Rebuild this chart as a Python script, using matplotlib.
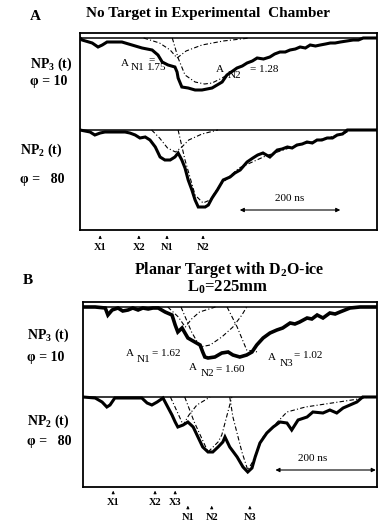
import matplotlib
matplotlib.use("Agg")
import matplotlib.pyplot as plt
from matplotlib.transforms import blended_transform_factory

plt.rcParams['mathtext.fontset'] = 'custom'
plt.rcParams['mathtext.rm'] = 'Liberation Serif'
plt.rcParams['mathtext.bf'] = 'Liberation Serif:bold'
plt.rcParams['mathtext.it'] = 'Liberation Serif:italic'
SERIF = ['Liberation Serif', 'DejaVu Serif']

# ---------------- data (time in ns, signal in a.u., 0 = baseline) ----------------
# Panel A, NP3(t), phi = 10
a3_t = [0, 4, 23, 34, 42, 51, 79, 98, 117, 136, 147, 155, 166, 179, 183, 185, 192, 204, 217, 230,
        249, 268, 277, 288, 296, 306, 315, 325, 334, 346, 358, 367, 377, 387, 396, 406, 415, 425,
        434, 444, 453, 463, 472, 481, 491, 503, 515, 525, 534, 560]
a3_s = [0, -2, -5, -9, -7, -4, -4, -7, -10, -12, -17, -24, -27, -29, -34, -40, -49, -50, -52, -52,
        -50, -44, -37, -33, -30, -28, -25, -23, -20, -21, -19, -16, -14, -14, -12, -11, -9, -10,
        -7, -8, -7, -6, -5, -5, -4, -3, -2, -2, 0, 0]
a3_n1_t = [120, 150, 170, 183, 200, 230, 270, 320]
a3_n1_s = [0, -5, -12, -20, -13, -7, -3, 0]
a3_n2_t = [174, 185, 198, 217, 235, 249, 268, 283]
a3_n2_s = [0, -20, -37, -44, -46, -45, -40, -35]

# Panel A, NP2(t), phi = 80
a2_t = [0, 19, 28, 38, 47, 66, 85, 94, 104, 113, 123, 132, 142, 151, 160, 170, 179, 185, 192, 198,
        204, 211, 217, 223, 236, 242, 249, 259, 270, 283, 292, 302, 315, 326, 335, 345, 358, 372,
        381, 391, 400, 409, 419, 428, 438, 447, 456, 466, 476, 485, 495, 504, 560]
a2_s = [0, -2, -5, -3, -2, -2, -2, -3, -5, -8, -7, -10, -17, -27, -30, -30, -27, -23, -30, -38,
        -50, -60, -70, -77, -77, -75, -68, -60, -50, -47, -43, -40, -32, -28, -25, -23, -27, -20,
        -19, -17, -18, -15, -14, -12, -13, -10, -10, -8, -8, -5, -4, 0, 0]
a2_n1_t = [135, 150, 165, 180, 192, 205, 230, 260]
a2_n1_s = [0, -8, -18, -22, -17, -10, -4, 0]
a2_n2_t = [185, 198, 217, 232, 245, 264, 300, 350, 400, 450, 500, 510]
a2_n2_s = [0, -30, -65, -73, -70, -55, -38, -26, -17, -10, -3, 0]

# Panel B, NP3(t), phi = 10
b3_t = [0, 23, 42, 47, 55, 66, 75, 85, 94, 104, 113, 123, 132, 142, 155, 168, 174, 179, 187, 198,
        211, 221, 226, 230, 236, 249, 262, 274, 283, 296, 309, 319, 328, 340, 353, 366, 377, 391,
        400, 409, 423, 432, 442, 453, 466, 476, 485, 504, 523, 555]
b3_s = [0, 0, -1, -8, -3, -1, -4, -3, -1, -3, -1, -2, -1, -1, -5, -8, -18, -25, -21, -31,
        -35, -38, -45, -50, -51, -50, -46, -45, -48, -50, -48, -45, -38, -31, -26, -23, -21, -16,
        -17, -15, -11, -12, -8, -11, -6, -7, -5, -1, 0, 0]
b3_n1_t = [160, 180, 193, 205, 220, 250]
b3_n1_s = [0, -10, -20, -12, -5, 0]
b3_n2_t = [185, 205, 221, 240, 262, 283, 300, 309]
b3_n2_s = [0, -25, -40, -38, -30, -20, -8, 0]
b3_n3_t = [272, 291, 309, 330]
b3_n3_s = [0, -20, -43, -45]

# Panel B, NP2(t), phi = 80
b2_t = [0, 23, 36, 45, 51, 60, 79, 111, 121, 130, 140, 151, 160, 168, 174, 179, 189, 198, 208, 217,
        226, 236, 245, 255, 264, 268, 277, 291, 302, 311, 319, 325, 334, 347, 359, 372, 385, 394,
        406, 423, 434, 453, 466, 479, 491, 504, 517, 528, 555]
b2_s = [0, -1, -5, -10, -8, -1, -1, -1, -6, -8, -5, -1, -10, -18, -25, -30, -28, -25, -30, -40,
        -50, -55, -55, -50, -45, -40, -50, -60, -70, -75, -71, -60, -46, -36, -30, -25, -26, -33,
        -23, -20, -15, -16, -13, -16, -11, -8, -5, 0, 0]
b2_n1_t = [165, 178, 189, 200, 215, 240]
b2_n1_s = [0, -15, -28, -18, -8, 0]
b2_n2_t = [192, 210, 236, 255, 262, 281]
b2_n2_s = [0, -25, -55, -45, -38, 0]
b2_n3_t = [277, 283, 300, 311, 320, 340, 385, 420, 470, 520, 540]
b2_n3_s = [0, -20, -55, -73, -65, -40, -15, -10, -6, -2, 0]

a_marks = ['X1', 'X2', 'N1', 'N2']
a_marks_t = [38, 111, 164, 232]
b_marks = ['X1', 'X2', 'X3', 'N1', 'N2', 'N3']
b_marks_t = [57, 136, 174, 198, 243, 315]
b_marks_row = [0, 0, 0, 1, 1, 1]

# ---------------- figure ----------------
W, H = 378, 526
fig = plt.figure(figsize=(W / 100, H / 100), dpi=100)
fig.patch.set_facecolor('white')


def rect(x0, y0, x1, y1):
    return [x0 / W, 1 - y1 / H, (x1 - x0) / W, (y1 - y0) / H]


def ftext(x, y, s, **kw):
    kw.setdefault('family', SERIF)
    fig.text(x / W, 1 - y / H, s, zorder=10, **kw)


def frame(x0, y0, x1, y1):
    ax = fig.add_axes(rect(x0, y0, x1, y1))
    ax.set_xticks([]); ax.set_yticks([])
    for sp in ax.spines.values():
        sp.set_linewidth(1.3)
    ax.patch.set_alpha(0)
    return ax


def trace_ax(x0, y0, x1, y1, ylim, tmax):
    ax = fig.add_axes(rect(x0, y0, x1, y1))
    ax.set_xlim(0, tmax)
    ax.set_ylim(*ylim)
    ax.axis('off')
    ax.patch.set_alpha(0)
    ax.axhline(0, color='black', lw=1.1)
    return ax


def draw(ax, t, s, comps, lw=2.2):
    for ct, cs in comps:
        ax.plot(ct, cs, color='black', lw=0.8, ls=(0, (4, 2, 1, 2)))
    ax.plot(t, s, color='black', lw=lw, solid_joinstyle='miter')


# Panel A
frame(80, 33, 377, 230)
axA3 = trace_ax(80, 34, 377, 134, (-96, 4), 560)
draw(axA3, a3_t, a3_s, [(a3_n1_t, a3_n1_s), (a3_n2_t, a3_n2_s)])
axA2 = trace_ax(80, 126, 377, 230, (-100, 4), 560)
draw(axA2, a2_t, a2_s, [(a2_n1_t, a2_n1_s), (a2_n2_t, a2_n2_s)])
axA2.annotate('', xy=(296, -80), xytext=(496, -80),
              arrowprops=dict(arrowstyle='<|-|>', lw=0.8, color='black', mutation_scale=6))
axA2.text(396, -73, '200 ns', ha='center', va='bottom', fontsize=8, family=SERIF)
trA = blended_transform_factory(axA2.transData, axA2.transAxes)
for lab, t in zip(a_marks, a_marks_t):
    axA2.annotate('', xy=(t, -0.025), xytext=(t, -0.1), xycoords=trA, textcoords=trA,
                  arrowprops=dict(arrowstyle='-|>', lw=0.6, color='black', mutation_scale=4))
    axA2.text(t, -0.165, lab, transform=trA, ha='center', va='center', fontsize=7.5,
              fontweight='bold', family=SERIF)

# Panel B
frame(83, 302, 377, 487)
axB3 = trace_ax(83, 302, 377, 397, (-90, 5), 555)
draw(axB3, b3_t, b3_s, [(b3_n1_t, b3_n1_s), (b3_n2_t, b3_n2_s), (b3_n3_t, b3_n3_s)], lw=2.6)
axB2 = trace_ax(83, 393, 377, 487, (-90, 4), 555)
draw(axB2, b2_t, b2_s, [(b2_n1_t, b2_n1_s), (b2_n2_t, b2_n2_s), (b2_n3_t, b2_n3_s)])
axB2.annotate('', xy=(358, -73), xytext=(558, -73),
              arrowprops=dict(arrowstyle='<|-|>', lw=0.8, color='black', mutation_scale=6),
              annotation_clip=False)
axB2.text(434, -66, '200 ns', ha='center', va='bottom', fontsize=8, family=SERIF)
trB = blended_transform_factory(axB2.transData, axB2.transAxes)
for lab, t, row in zip(b_marks, b_marks_t, b_marks_row):
    off = -0.16 * row
    axB2.annotate('', xy=(t, -0.01 + off), xytext=(t, -0.095 + off), xycoords=trB, textcoords=trB,
                  arrowprops=dict(arrowstyle='-|>', lw=0.6, color='black', mutation_scale=4))
    axB2.text(t, -0.16 + off, lab, transform=trB, ha='center', va='center', fontsize=7.5,
              fontweight='bold', family=SERIF)

# ---------------- texts ----------------
ftext(35, 16, 'A', fontsize=11, fontweight='bold', ha='center', va='center')
ftext(208, 14, 'No Target in Experimental  Chamber', fontsize=11, fontweight='bold',
      ha='center', va='center')
ftext(30, 64, r'NP$_{\mathbf{3}}$ (t)', fontsize=10, fontweight='bold', ha='left', va='center')
ftext(30, 81, '\u03c6 = 10', fontsize=10, fontweight='bold', ha='left', va='center')
ftext(20, 150, r'NP$_{\mathbf{2}}$ (t)', fontsize=10, fontweight='bold', ha='left', va='center')
ftext(20, 180, '\u03c6 =   80', fontsize=10, fontweight='bold', ha='left', va='center')

ANN = 8
ftext(121, 63, 'A', fontsize=ANN, ha='left', va='center')
ftext(131, 68, 'N1', fontsize=ANN, ha='left', va='center')
ftext(148, 60, '=', fontsize=ANN, ha='left', va='center')
ftext(147, 68, '1.75', fontsize=ANN, ha='left', va='center')
ftext(216, 70, 'A', fontsize=ANN, ha='left', va='center')
ftext(228, 75, 'N2', fontsize=ANN, ha='left', va='center')
ftext(250, 69, '= 1.28', fontsize=ANN, ha='left', va='center')

ftext(28, 280, 'B', fontsize=11, fontweight='bold', ha='center', va='center')
ftext(229, 270, r'Planar Target with D$_{\mathbf{2}}$O-ice', fontsize=11.5, fontweight='bold',
      ha='center', va='center')
ftext(228, 287, r'L$_{\mathbf{0}}$=225mm', fontsize=12, fontweight='bold', ha='center', va='center')
ftext(27, 335, r'NP$_{\mathbf{3}}$ (t)', fontsize=10, fontweight='bold', ha='left', va='center')
ftext(27, 357, '\u03c6 = 10', fontsize=10, fontweight='bold', ha='left', va='center')
ftext(27, 421, r'NP$_{\mathbf{2}}$ (t)', fontsize=10, fontweight='bold', ha='left', va='center')
ftext(27, 442, '\u03c6 =   80', fontsize=10, fontweight='bold', ha='left', va='center')

ftext(126, 354, 'A', fontsize=ANN, ha='left', va='center')
ftext(137, 360, 'N1', fontsize=ANN, ha='left', va='center')
ftext(152, 353, '= 1.62', fontsize=ANN, ha='left', va='center')
ftext(189, 368, 'A', fontsize=ANN, ha='left', va='center')
ftext(201, 374, 'N2', fontsize=ANN, ha='left', va='center')
ftext(216, 369, '= 1.60', fontsize=ANN, ha='left', va='center')
ftext(268, 357, 'A', fontsize=ANN, ha='left', va='center')
ftext(280, 364, 'N3', fontsize=ANN, ha='left', va='center')
ftext(294, 355, '= 1.02', fontsize=ANN, ha='left', va='center')

fig.savefig('out.png', dpi=100, facecolor='white')
